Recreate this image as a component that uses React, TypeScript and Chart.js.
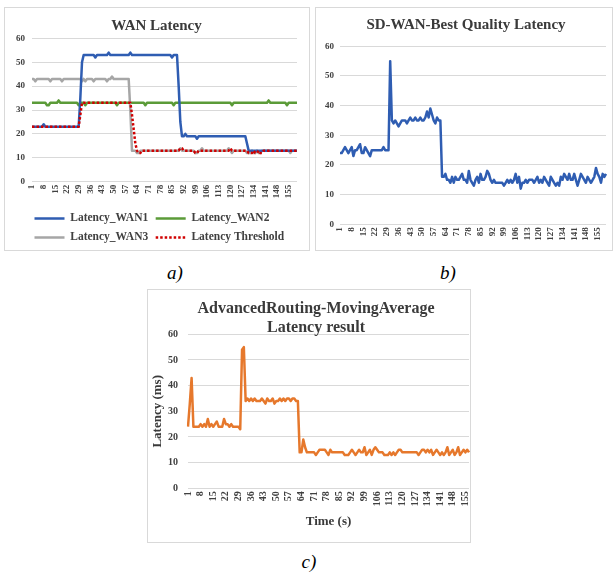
import React, { useEffect, useRef } from 'react';
import { Chart, registerables } from 'chart.js';

Chart.register(...registerables);

const SERIF = "'Liberation Serif', 'Times New Roman', serif";
const TICK_COLOR = '#404040';
const TITLE_COLOR = '#3a3a3a';
const GRID_COLOR = '#D9D9D9';
const TICK_EVERY = 7;

// time axis categories (seconds)
const timeLabelsA: string[] = Array.from({ length: 160 }, (_, i) => String(i + 1));
const timeLabelsB: string[] = Array.from({ length: 160 }, (_, i) => String(i + 1));
const timeLabelsC: string[] = Array.from({ length: 157 }, (_, i) => String(i + 1));

// a) WAN Latency
const latencyWan1: number[] = [
  23, 23, 23, 23, 23, 23, 23, 24, 23, 23,
  23, 23, 23, 23, 23, 23, 23, 23, 23, 23,
  23, 23, 23, 23, 23, 23, 23, 23, 23, 35,
  50, 53, 53, 53, 53, 53, 53, 53, 52, 53,
  53, 53, 53, 53, 53, 53, 54, 53, 53, 53,
  53, 53, 53, 53, 53, 53, 53, 53, 53, 54,
  53, 53, 53, 53, 53, 53, 53, 53, 53, 53,
  53, 53, 53, 53, 53, 53, 53, 53, 53, 53,
  53, 53, 53, 53, 52, 53, 53, 53, 40, 25,
  19, 19, 20, 19, 19, 19, 19, 19, 19, 18,
  19, 19, 19, 19, 19, 19, 19, 19, 19, 19,
  19, 19, 19, 19, 19, 19, 19, 19, 19, 19,
  19, 19, 19, 19, 19, 19, 19, 19, 19, 16,
  13, 13, 13, 13, 13, 13, 13, 13, 13, 13,
  13, 13, 13, 13, 13, 13, 13, 13, 13, 13,
  13, 13, 13, 13, 13, 13, 13, 13, 13, 13,
];
const latencyWan2: number[] = [
  33, 33, 33, 33, 33, 33, 33, 33, 33, 32,
  32, 33, 33, 33, 33, 33, 34, 33, 33, 33,
  33, 33, 33, 33, 33, 33, 33, 33, 32, 33,
  33, 33, 32, 33, 33, 33, 33, 33, 33, 33,
  33, 33, 33, 33, 33, 33, 33, 33, 33, 33,
  33, 32, 33, 33, 33, 33, 33, 33, 33, 33,
  33, 33, 33, 33, 33, 33, 33, 33, 32, 33,
  33, 33, 33, 33, 33, 33, 33, 33, 33, 33,
  33, 33, 33, 33, 33, 32, 33, 33, 33, 33,
  33, 33, 33, 33, 33, 33, 33, 33, 33, 33,
  33, 33, 33, 33, 33, 33, 33, 33, 33, 33,
  33, 33, 33, 33, 33, 33, 33, 33, 33, 33,
  32, 33, 33, 33, 33, 33, 33, 33, 33, 33,
  33, 33, 33, 33, 33, 33, 33, 33, 33, 33,
  33, 33, 34, 33, 33, 33, 33, 33, 33, 33,
  33, 33, 33, 32, 33, 33, 33, 33, 33, 33,
];
const latencyWan3: number[] = [
  43, 43, 42, 43, 43, 43, 43, 43, 43, 43,
  43, 42, 43, 43, 43, 43, 43, 43, 42, 43,
  43, 43, 43, 43, 43, 43, 43, 43, 43, 43,
  42, 43, 42, 43, 43, 43, 43, 42, 43, 43,
  43, 43, 43, 43, 43, 42, 43, 43, 44, 43,
  43, 43, 43, 43, 43, 43, 43, 43, 43, 30,
  13, 13, 13, 12, 12, 13, 13, 13, 13, 13,
  13, 13, 13, 13, 13, 13, 13, 13, 13, 13,
  13, 13, 13, 13, 13, 13, 13, 13, 13, 14,
  13, 13, 13, 13, 13, 13, 13, 13, 12, 12,
  13, 13, 14, 13, 13, 13, 13, 13, 13, 13,
  13, 13, 13, 13, 13, 13, 13, 13, 14, 13,
  12, 13, 13, 13, 13, 13, 13, 13, 13, 12,
  12, 12, 13, 12, 12, 13, 12, 12, 13, 13,
  13, 13, 13, 13, 13, 13, 13, 13, 13, 13,
  13, 13, 13, 13, 13, 12, 13, 13, 13, 13,
];
const latencyThreshold: number[] = [
  23, 23, 23, 23, 23, 23, 23, 23, 23, 23,
  23, 23, 23, 23, 23, 23, 23, 23, 23, 23,
  23, 23, 23, 23, 23, 23, 23, 23, 23, 28,
  33, 33, 33, 33, 33, 33, 33, 33, 33, 33,
  33, 33, 33, 33, 33, 33, 33, 33, 33, 33,
  33, 33, 33, 33, 33, 33, 33, 33, 33, 33,
  28, 22, 16, 13, 12, 12, 13, 13, 13, 13,
  13, 13, 13, 13, 13, 13, 13, 13, 13, 13,
  13, 13, 13, 13, 13, 13, 13, 13, 13, 14,
  14, 13, 13, 13, 13, 13, 13, 13, 12, 12,
  13, 13, 13, 13, 13, 13, 13, 13, 13, 13,
  13, 13, 13, 13, 13, 13, 13, 13, 13, 14,
  13, 13, 13, 13, 13, 13, 13, 13, 13, 13,
  12, 12, 12, 13, 12, 12, 13, 12, 12, 13,
  13, 13, 13, 13, 13, 13, 13, 13, 13, 13,
  13, 13, 13, 13, 13, 13, 13, 13, 13, 13,
];

// b) SD-WAN-Best Quality Latency
const bestQualityLatency: number[] = [
  24, 24, 25, 26, 25, 24, 25, 26, 23, 25,
  25, 26, 27, 24, 24, 26, 25, 24, 23, 25,
  25, 25, 25, 25, 25, 25, 26, 25, 25, 25,
  55, 35, 34, 35, 34, 33, 34, 35, 35, 35,
  34, 35, 36, 35, 35, 36, 35, 35, 36, 35,
  35, 36, 38, 36, 39, 37, 35, 34, 36, 35,
  35, 16, 16, 17, 15, 15, 14, 16, 14, 16,
  15, 15, 16, 17, 15, 15, 14, 18, 15, 14,
  13, 15, 16, 14, 17, 15, 15, 16, 18, 17,
  15, 14, 15, 14, 14, 14, 14, 14, 13, 14,
  15, 14, 15, 14, 15, 17, 14, 16, 12, 14,
  14, 15, 14, 15, 15, 15, 14, 15, 16, 14,
  15, 14, 16, 15, 14, 13, 16, 15, 14, 13,
  14, 13, 16, 15, 17, 16, 15, 17, 15, 15,
  17, 15, 13, 15, 17, 16, 15, 14, 16, 15,
  14, 15, 16, 19, 17, 16, 14, 17, 16, 17,
];

// c) AdvancedRouting-MovingAverage latency result
const movingAverageLatency: number[] = [
  24, 33, 43, 24, 24, 24, 24, 25, 24, 25,
  24, 27, 24, 25, 24, 25, 26, 24, 24, 24,
  27, 25, 25, 24, 25, 24, 24, 24, 24, 23,
  54, 55, 34, 35, 34, 35, 34, 35, 34, 34,
  34, 35, 34, 33, 35, 34, 34, 35, 33, 34,
  34, 35, 34, 35, 34, 35, 35, 34, 35, 35,
  34, 34, 14, 14, 19, 16, 14, 14, 14, 14,
  14, 13, 14, 15, 15, 15, 15, 14, 13, 15,
  14, 14, 14, 14, 14, 14, 14, 13, 13, 13,
  14, 15, 14, 13, 14, 15, 14, 14, 16, 13,
  14, 15, 13, 15, 16, 15, 14, 14, 14, 13,
  13, 13, 14, 13, 14, 13, 14, 15, 15, 14,
  14, 14, 14, 14, 14, 14, 14, 14, 13, 14,
  15, 15, 14, 15, 14, 15, 13, 14, 15, 14,
  13, 14, 13, 14, 16, 13, 14, 15, 13, 14,
  16, 13, 14, 15, 14, 15, 14,
];

const BLUE = '#2F5DB2';
const GREEN = '#5B9B38';
const GRAY = '#A6A6A6';
const RED = '#D00000';
const ORANGE = '#E6782C';

function xAxis(fontSize: number, height: number, title?: any) {
  return {
    type: 'category',
    grid: { display: false, drawTicks: false },
    border: { display: false },
    ticks: {
      autoSkip: false,
      minRotation: 90,
      maxRotation: 90,
      padding: 3,
      color: TICK_COLOR,
      font: { family: SERIF, size: fontSize, weight: 'bold' },
      callback(this: any, value: any, index: number) {
        return index % TICK_EVERY === 0 ? this.getLabelForValue(value) : null;
      },
    },
    title: title || { display: false },
    afterFit(s: any) {
      s.height = height;
      s.paddingLeft = 0;
      s.paddingRight = 0;
    },
  };
}

function yAxis(fontSize: number, width: number, pad: number, title?: any) {
  return {
    min: 0,
    max: 60,
    ticks: {
      stepSize: 10,
      padding: pad,
      color: TICK_COLOR,
      font: { family: SERIF, size: fontSize, weight: 'bold' },
    },
    grid: { color: GRID_COLOR, drawTicks: false, lineWidth: 1 },
    border: { display: false },
    title: title || { display: false },
    afterFit(s: any) {
      s.width = width;
      // tick labels may extend left of the (narrow) scale box: do not clip them
      s._computeLabelArea = () => undefined;
    },
  };
}

function line(label: string, data: number[], color: string, order: number, extra: any = {}) {
  return {
    label,
    data,
    borderColor: color,
    backgroundColor: color,
    borderWidth: 2.5,
    pointRadius: 0,
    pointHoverRadius: 0,
    tension: 0,
    borderJoinStyle: 'round',
    fill: false,
    order,
    ...extra,
  };
}

// centre the title of panel a over the whole panel rather than the padded area
const titleCentre = {
  id: 'titleCentre',
  afterLayout(chart: any) {
    if (chart.titleBlock) chart.titleBlock.left = 11;
  },
};

function configA(): any {
  return {
    type: 'line',
    data: {
      labels: timeLabelsA,
      datasets: [
        line('Latency_WAN1', latencyWan1, BLUE, 1),
        line('Latency_WAN2', latencyWan2, GREEN, 3),
        line('Latency_WAN3', latencyWan3, GRAY, 2),
        line('Latency Threshold', latencyThreshold, RED, 0, { borderDash: [2.5, 2], borderCapStyle: 'butt' }),
      ],
    },
    plugins: [titleCentre],
    options: {
      responsive: false,
      animation: false,
      devicePixelRatio: 1,
      layout: { padding: { left: 22, right: 12, top: 0, bottom: -3.25 } },
      scales: { x: xAxis(9, 23.55), y: yAxis(9, 5, 7) },
      plugins: {
        title: {
          display: true,
          text: 'WAN Latency',
          color: TITLE_COLOR,
          font: { family: SERIF, size: 15, weight: 'bold', lineHeight: 1.2 },
          padding: { top: 9, bottom: 3.3 },
        },
        legend: {
          display: true,
          position: 'bottom',
          align: 'start',
          labels: {
            usePointStyle: true,
            pointStyle: 'line',
            pointStyleWidth: 30,
            padding: 7.5,
            color: TICK_COLOR,
            font: { family: SERIF, size: 11.5, weight: 'bold' },
            sort: (a: any, b: any) => a.datasetIndex - b.datasetIndex,
            generateLabels(chart: any) {
              const items = Chart.defaults.plugins.legend.labels.generateLabels(chart);
              return items.map((it: any) => {
                const ds = chart.data.datasets[it.datasetIndex];
                return { ...it, lineDash: ds.borderDash || [], lineWidth: 2.5, strokeStyle: ds.borderColor, fillStyle: ds.borderColor };
              });
            },
          },
        },
        tooltip: { enabled: false },
      },
    },
  };
}

function configB(): any {
  return {
    type: 'line',
    data: {
      labels: timeLabelsB,
      datasets: [line('SD-WAN-Best Quality Latency', bestQualityLatency, BLUE, 0)],
    },
    options: {
      responsive: false,
      animation: false,
      devicePixelRatio: 1,
      layout: { padding: { left: 10, right: 6, top: 0, bottom: 0 } },
      scales: { x: xAxis(9, 25.7), y: yAxis(9, 14, 6) },
      plugins: {
        title: {
          display: true,
          text: 'SD-WAN-Best Quality Latency',
          color: TITLE_COLOR,
          font: { family: SERIF, size: 15, weight: 'bold', lineHeight: 1.2 },
          padding: { top: 8, bottom: 12.3 },
        },
        legend: { display: false },
        tooltip: { enabled: false },
      },
    },
  };
}

function configC(): any {
  return {
    type: 'line',
    data: {
      labels: timeLabelsC,
      datasets: [line('AdvancedRouting-MovingAverage', movingAverageLatency, ORANGE, 0)],
    },
    options: {
      responsive: false,
      animation: false,
      devicePixelRatio: 1,
      layout: { padding: { left: 15, right: 1, top: 0, bottom: 7.7 } },
      scales: {
        x: xAxis(10, 46, {
          display: true,
          text: 'Time (s)',
          color: TITLE_COLOR,
          font: { family: SERIF, size: 13, weight: 'bold', lineHeight: 1.2 },
          padding: { top: 0, bottom: 4.5 },
        }),
        y: yAxis(10, 25, 10, {
          display: true,
          text: 'Latency (ms)',
          color: TITLE_COLOR,
          font: { family: SERIF, size: 13, weight: 'bold', lineHeight: 1.2 },
          padding: { top: -12.8, bottom: 0 },
        }),
      },
      plugins: {
        title: {
          display: true,
          text: ['AdvancedRouting-MovingAverage', 'Latency result'],
          color: TITLE_COLOR,
          font: { family: SERIF, size: 16, weight: 'bold', lineHeight: 1.2 },
          padding: { top: 9.4, bottom: -3.5 },
        },
        legend: { display: false },
        tooltip: { enabled: false },
      },
    },
  };
}

function Panel(props: { left: number; top: number; width: number; height: number; make: () => any }) {
  const { left, top, width, height, make } = props;
  const ref = useRef<HTMLCanvasElement>(null);
  useEffect(() => {
    const chart = new Chart(ref.current as HTMLCanvasElement, make());
    return () => chart.destroy();
  }, []);
  return (
    <div
      style={{
        position: 'absolute',
        left,
        top,
        width,
        height,
        boxSizing: 'border-box',
        border: '1px solid #D9D9D9',
        background: '#fff',
      }}
    >
      <canvas
        ref={ref}
        width={width - 2}
        height={height - 2}
        style={{ display: 'block', width: width - 2, height: height - 2 }}
      />
    </div>
  );
}

function Caption(props: { x: number; y: number; text: string }) {
  return (
    <div
      style={{
        position: 'absolute',
        left: props.x - 20,
        top: props.y - 11,
        width: 40,
        height: 22,
        lineHeight: '22px',
        textAlign: 'center',
        fontFamily: SERIF,
        fontStyle: 'italic',
        fontSize: 19,
        color: '#000',
      }}
    >
      {props.text}
    </div>
  );
}

export default function App() {
  return (
    <div style={{ position: 'absolute', left: 0, top: 0, width: 614, height: 575, background: '#fff', overflow: 'hidden' }}>
      <Panel left={4} top={7} width={306} height={244} make={configA} />
      <Panel left={315} top={7} width={298} height={244} make={configB} />
      <Panel left={147} top={289} width={324} height={254} make={configC} />
      <Caption x={175} y={273} text="a)" />
      <Caption x={448} y={273} text="b)" />
      <Caption x={309} y={562} text="c)" />
    </div>
  );
}
